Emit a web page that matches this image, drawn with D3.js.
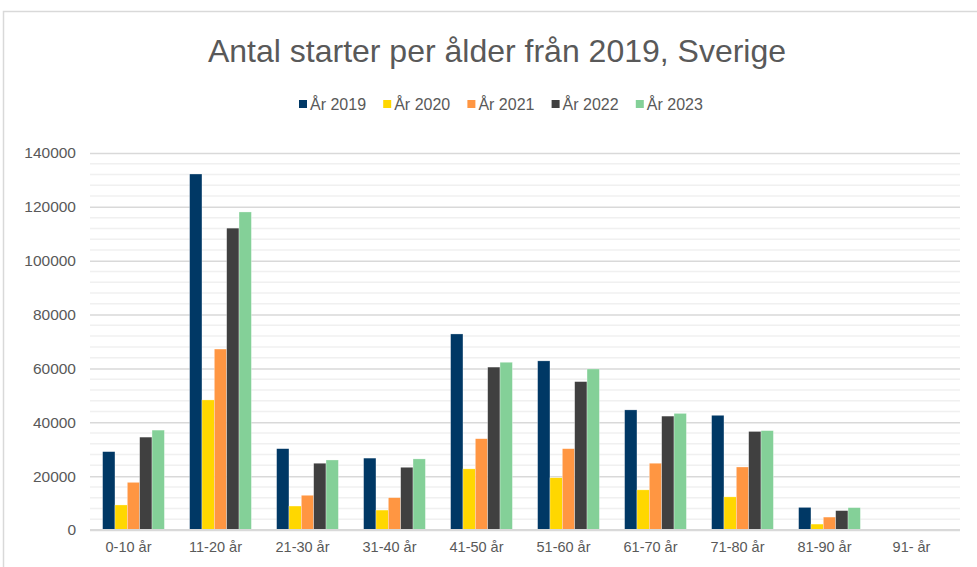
<!DOCTYPE html>
<html>
<head>
<meta charset="utf-8">
<script src="https://cdn.jsdelivr.net/npm/d3@7"></script>
<style>
  body { margin: 0; background: #fff; }
  text { font-family: "Liberation Sans", Arial, sans-serif; fill: #595959; }
</style>
</head>
<body>
<svg id="chart"></svg>
<script>
// data
var categories = ["0-10 år", "11-20 år", "21-30 år", "31-40 år", "41-50 år", "51-60 år", "61-70 år", "71-80 år", "81-90 år", "91- år"];
var seriesNames = ["År 2019", "År 2020", "År 2021", "År 2022", "År 2023"];
var y2019 = [29100, 132200, 30200, 26700, 72800, 62800, 44600, 42600, 8400, 300];
var y2020 = [9300, 48300, 8900, 7400, 22700, 19400, 14900, 12300, 2200, 100];
var y2021 = [17700, 67200, 12900, 12000, 33900, 30200, 24800, 23400, 4800, 150];
var y2022 = [34500, 112100, 24800, 23300, 60500, 55100, 42300, 36600, 7200, 250];
var y2023 = [37100, 118100, 26000, 26400, 62300, 59800, 43300, 36900, 8300, 300];
var yTicks = [0, 20000, 40000, 60000, 80000, 100000, 120000, 140000];

var colors = ["#003865", "#FFD700", "#FF9642", "#404040", "#84D098"];
var series = [y2019, y2020, y2021, y2022, y2023];

var width = 977, height = 567;
var margin = {left: 90, right: 17, top: 153, bottom: 37};

var svg = d3.select("#chart")
	.attr("width", width)
	.attr("height", height);

// chart frame
svg.append("rect")
	.attr("x", 3.5)
	.attr("y", 11.5)
	.attr("width", 990)
	.attr("height", 600)
	.attr("fill", "none")
	.attr("stroke", "#d9d9d9")
	.attr("stroke-width", 1.5);

var x0 = d3.scaleBand()
	.domain(categories)
	.range([margin.left, width - margin.right])
	.paddingInner(0.29)
	.paddingOuter(0.145);

var x1 = d3.scaleBand()
	.domain(d3.range(series.length))
	.range([0, x0.bandwidth()]);

var y = d3.scaleLinear()
	.domain([0, 140000])
	.range([height - margin.bottom, margin.top]);

// minor grid every 4000, major every 20000
var minor = d3.range(4000, 140001, 4000).filter(function(d) { return d % 20000 !== 0; });
svg.append("g")
	.selectAll("line")
	.data(minor)
	.enter()
	.append("line")
	.attr("x1", margin.left)
	.attr("x2", width - margin.right)
	.attr("y1", function(d) { return y(d); })
	.attr("y2", function(d) { return y(d); })
	.attr("stroke", "#f0f0f0")
	.attr("stroke-width", 1.5);

var yAxis = d3.axisLeft(y)
	.tickValues(yTicks)
	.tickSize(-(width - margin.left - margin.right))
	.tickPadding(14)
	.tickFormat(d3.format("d"));

var gy = svg.append("g")
	.attr("transform", "translate(" + margin.left + ",0)")
	.call(yAxis);
gy.select(".domain").remove();
gy.selectAll(".tick line")
	.attr("stroke", "#d9d9d9")
	.attr("stroke-width", 1.5);
gy.selectAll(".tick text")
	.style("font-size", "15.5px")
	.attr("fill", "#595959");

// bars
var groups = svg.append("g")
	.selectAll("g")
	.data(categories)
	.enter()
	.append("g")
	.attr("transform", function(d) { return "translate(" + x0(d) + ",0)"; });

groups.selectAll("rect")
	.data(function(d, i) {
		return series.map(function(s, k) { return {k: k, v: s[i]}; });
	})
	.enter()
	.append("rect")
	.attr("x", function(d) { return x1(d.k); })
	.attr("width", x1.bandwidth())
	.attr("y", function(d) { return y(d.v); })
	.attr("height", function(d) { return y(0) - y(d.v); })
	.attr("fill", function(d) { return colors[d.k]; })
	.attr("stroke", "#fff")
	.attr("stroke-opacity", 0.6)
	.attr("stroke-width", 0.5);

// x axis
var xAxis = d3.axisBottom(x0).tickSize(0).tickPadding(12);
var gx = svg.append("g")
	.attr("transform", "translate(0," + y(0) + ")")
	.call(xAxis);
gx.select(".domain")
	.attr("stroke", "#d9d9d9")
	.attr("stroke-width", 2)
	.attr("d", "M" + margin.left + ",0H" + (width - margin.right));
gx.selectAll(".tick text")
	.style("font-size", "14.5px")
	.attr("dx", "-5")
	.attr("fill", "#595959");

// title
svg.append("text")
	.attr("x", 497)
	.attr("y", 62)
	.attr("text-anchor", "middle")
	.style("font-size", "32px")
	.text("Antal starter per ålder från 2019, Sverige");

// legend
var legend = svg.append("g")
	.selectAll("g")
	.data(seriesNames)
	.enter()
	.append("g")
	.attr("transform", function(d, i) { return "translate(" + (299 + i * 84.2) + ",104)"; });
legend.append("rect")
	.attr("x", 0)
	.attr("y", -4)
	.attr("width", 8)
	.attr("height", 8)
	.attr("fill", function(d, i) { return colors[i]; });
legend.append("text")
	.attr("x", 11)
	.attr("y", 6)
	.style("font-size", "16px")
	.text(function(d) { return d; });
</script>
</body>
</html>
